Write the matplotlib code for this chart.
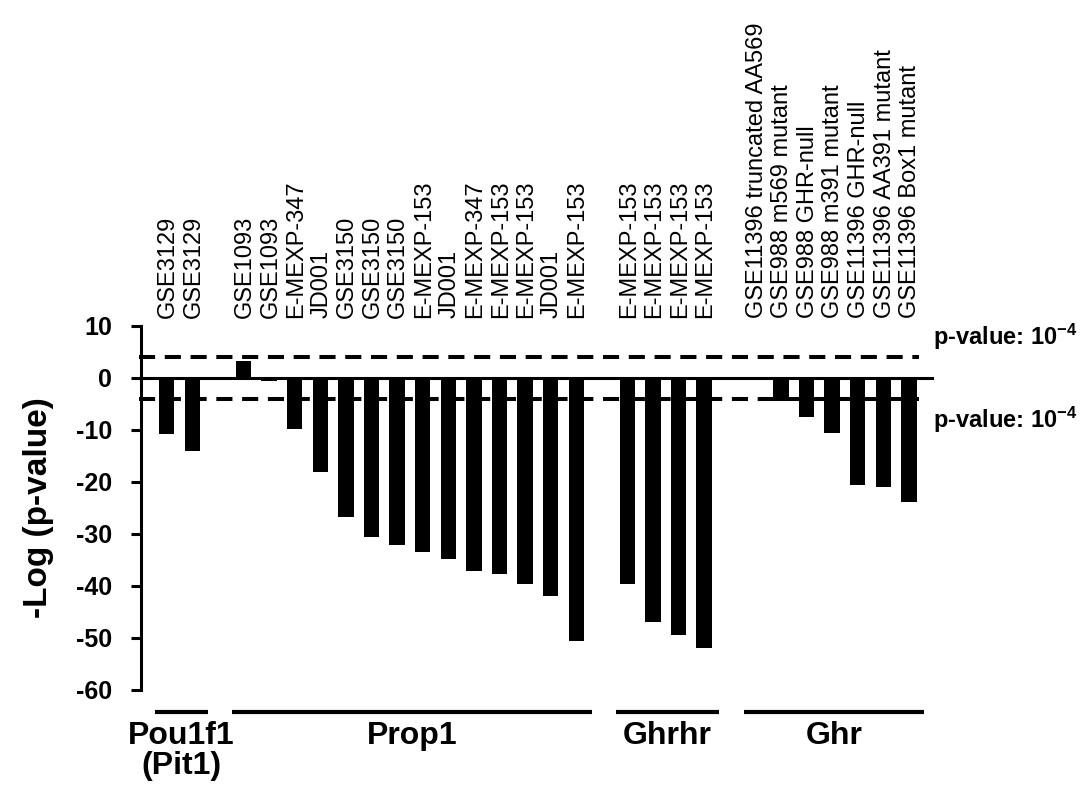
import matplotlib
matplotlib.use('Agg')
import matplotlib.pyplot as plt
import numpy as np

plt.rcParams['font.family'] = ['Liberation Sans', 'DejaVu Sans']
plt.rcParams['mathtext.default'] = 'regular'
plt.rcParams['axes.unicode_minus'] = False

# -log(p-value) per data set, grouped by gene
pou_vals = [-10.8, -14.0]
prop_vals = [3.3, -0.6, -9.8, -18.1, -26.8, -30.6, -32.2, -33.5, -34.8, -37.2, -37.8, -39.7, -42.0, -50.5]
ghrhr_vals = [-39.6, -47.0, -49.4, -52.0]
ghr_vals = [-0.3, -4.4, -7.6, -10.6, -20.6, -21.0, -23.9]

pou_labels = ['GSE3129', 'GSE3129']
prop_labels = ['GSE1093', 'GSE1093', 'E-MEXP-347', 'JD001', 'GSE3150', 'GSE3150', 'GSE3150',
               'E-MEXP-153', 'JD001', 'E-MEXP-347', 'E-MEXP-153', 'E-MEXP-153', 'JD001', 'E-MEXP-153']
ghrhr_labels = ['E-MEXP-153', 'E-MEXP-153', 'E-MEXP-153', 'E-MEXP-153']
ghr_labels = ['GSE11396 truncated AA569', 'GSE988 m569 mutant', 'GSE988 GHR-null', 'GSE988 m391 mutant',
              'GSE11396 GHR-null', 'GSE11396 AA391 mutant', 'GSE11396 Box1 mutant']

group_names = ['Pou1f1\n(Pit1)', 'Prop1', 'Ghrhr', 'Ghr']
threshold = 4  # -log10(1e-4)

groups = [(pou_vals, pou_labels), (prop_vals, prop_labels),
          (ghrhr_vals, ghrhr_labels), (ghr_vals, ghr_labels)]

fig = plt.figure(figsize=(10.86, 7.93), dpi=100)
ax = fig.add_axes([0.13, 0.13, 0.754, 0.459])

pos = 0
spans = []
for vals, labels in groups:
    x = np.arange(pos, pos + len(vals))
    ax.bar(x, vals, width=0.6, color='black', zorder=3)
    for xi, lab in zip(x, labels):
        ax.text(xi + 0.05, 11.5, lab, rotation=90, ha='center', va='bottom', fontsize=17, clip_on=False)
    spans.append((x[0], x[-1]))
    pos += len(vals) + 1

# group underlines and names
for (a, b), name in zip(spans, group_names):
    ax.plot([a - 0.45, b + 0.6], [-64.2, -64.2], color='black', lw=3, clip_on=False,
            solid_capstyle='butt')
    ax.text((a - 0.45 + b + 0.6) / 2, -66.0, name, ha='center', va='top', fontsize=23,
            fontweight='bold', clip_on=False, linespacing=1.0)

ax.plot([-1, 29.9], [0, 0], color='black', lw=2.2, clip_on=False, zorder=4)
for t in (threshold, -threshold):
    ax.plot([-1.1, 29.4], [t, t], color='black', lw=2.9, ls=(0, (4, 2.4)), clip_on=False, zorder=4)
ax.text(29.95, threshold + 0.9, 'p-value: 10$^{-4}$', ha='left', va='bottom', fontsize=17,
        fontweight='bold', clip_on=False)
ax.text(29.95, -threshold - 1.2, 'p-value: 10$^{-4}$', ha='left', va='top', fontsize=17,
        fontweight='bold', clip_on=False)

ax.set_xlim(-1, 31)
ax.set_ylim(-60, 10)
ax.set_yticks(np.arange(-60, 11, 10))
ax.tick_params(axis='y', direction='out', length=7, width=2.2, pad=14, labelsize=18)
for lab in ax.get_yticklabels():
    lab.set_fontweight('bold')
ax.set_xticks([])
for s in ['top', 'right', 'bottom']:
    ax.spines[s].set_visible(False)
ax.spines['left'].set_linewidth(2.2)
ax.set_ylabel('-Log (p-value)', fontsize=24, fontweight='bold', labelpad=16)

fig.savefig('out.png', dpi=100)
